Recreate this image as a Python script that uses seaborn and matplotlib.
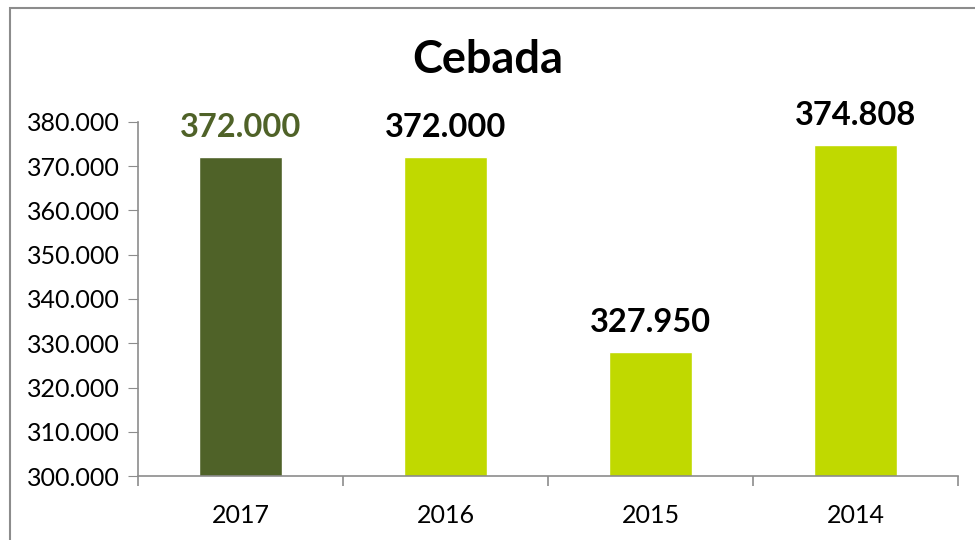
import pandas as pd
import numpy as np
import matplotlib
matplotlib.use("Agg")
import matplotlib.pyplot as plt
import seaborn as sns
from matplotlib.patches import Rectangle
from matplotlib.ticker import FuncFormatter, FixedLocator

sns.set_style("white")
plt.rcParams['font.family'] = ['Lato', 'DejaVu Sans']
plt.rcParams['text.color'] = 'black'
plt.rcParams['xtick.color'] = 'black'
plt.rcParams['ytick.color'] = 'black'

years = ['2017', '2016', '2015', '2014']
values = [372000, 372000, 327950, 374808]
bar_colors = ['#4F6228', '#C0D900', '#C0D900', '#C0D900']
label_colors = ['#4F6228', '#000000', '#000000', '#000000']
y_ticks = [300000, 310000, 320000, 330000, 340000, 350000, 360000, 370000, 380000]

df = pd.DataFrame({'year': years, 'value': values})

fig = plt.figure(figsize=(9.75, 5.4), dpi=100)
ax = fig.add_axes([138/975, 64/540, 820/975, 354/540])

sns.barplot(data=df, x='year', y='value', hue='year', palette=bar_colors,
            legend=False, width=0.405, saturation=1, ax=ax)

ax.set_ylim(300000, 380000)
ax.set_xlim(-0.5, len(years) - 0.5)
ax.set_yticks(y_ticks)
ax.yaxis.set_major_formatter(FuncFormatter(lambda v, p: f"{v:,.0f}".replace(',', '.')))
ax.set_xlabel('')
ax.set_ylabel('')

for i, (v, c) in enumerate(zip(values, label_colors)):
    ax.annotate(f"{v:,.0f}".replace(',', '.'), xy=(i, v), xytext=(0, 11),
                textcoords='offset points', ha='center', va='bottom',
                fontsize=23.5, fontweight='bold', color=c, annotation_clip=False)

for s in ['top', 'right']:
    ax.spines[s].set_visible(False)
for s in ['left', 'bottom']:
    ax.spines[s].set_color('#8C8C8C')
    ax.spines[s].set_linewidth(1.2)

ax.tick_params(axis='y', which='major', direction='out', length=7, color='#8C8C8C',
               labelcolor='black', labelsize=18, pad=6, left=True)
ax.tick_params(axis='x', which='major', length=0, labelsize=18, pad=20,
               labelcolor='black')
ax.xaxis.set_minor_locator(FixedLocator(np.arange(-0.5, len(years), 1.0)))
ax.tick_params(axis='x', which='minor', direction='out', length=7, color='#8C8C8C',
               width=1.2, bottom=True)

fig.text(0.5, 0.888, 'Cebada', ha='center', va='center', fontsize=32.5,
         fontweight='bold', color='black')

fig.patches.append(Rectangle((10/975, -0.1), 1.2, (540 - 8)/540 + 0.1,
                             transform=fig.transFigure, fill=False,
                             edgecolor='#8C8C8C', linewidth=1.5, figure=fig))

fig.savefig('out.png', dpi=100)
